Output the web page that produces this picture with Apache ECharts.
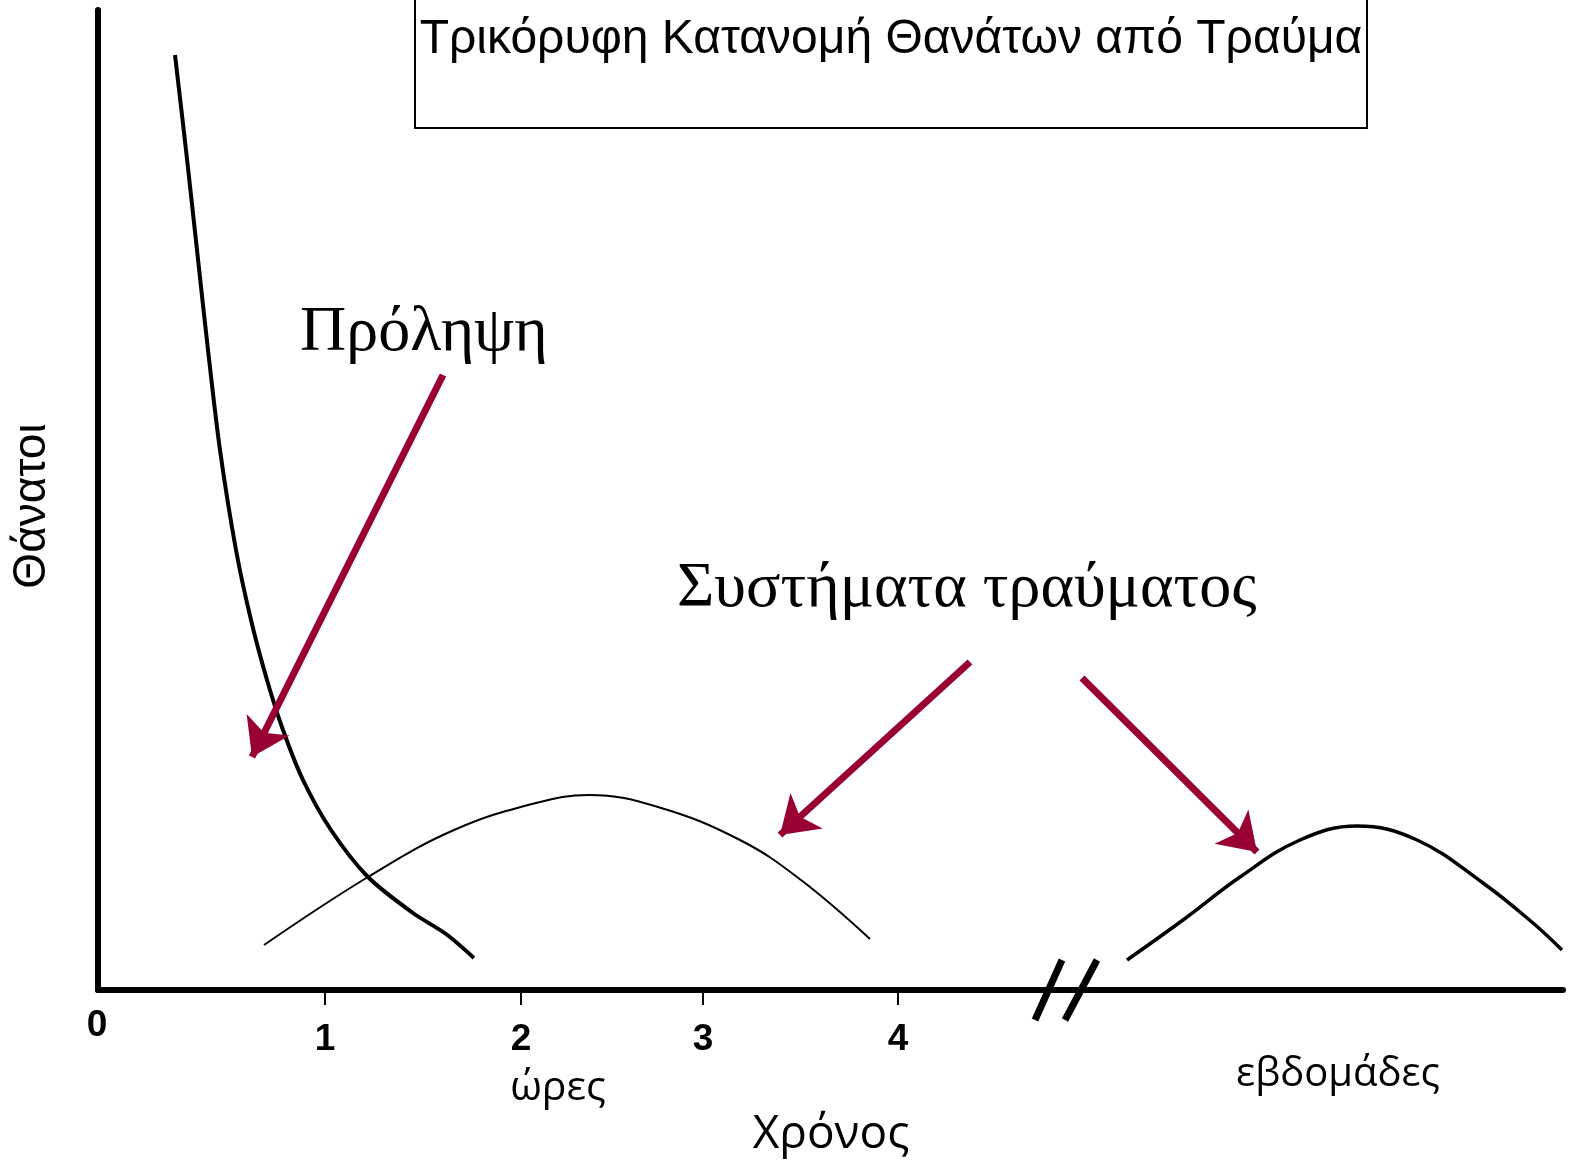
<!DOCTYPE html>
<html>
<head>
<meta charset="utf-8">
<script src="https://cdn.jsdelivr.net/npm/echarts@6/dist/echarts.min.js"></script>
<style>
html,body{margin:0;padding:0;background:#fff;}
#chart{width:1569px;height:1164px;}
</style>
</head>
<body>
<div id="chart"></div>
<script>
// Schematic units: x = horizontal distance along the time axis, y = deaths (arbitrary)
const xMax = 1465;
const yMax = 980;

// Tick positions along the time axis and their labels (hours)
const tickValues = [227, 423, 605, 800];
const tickLabels = ['1', '2', '3', '4'];
const zeroLabel = '0';
const breakAt = 967;

// Peak 1: immediate deaths (falling curve)
const immediateDeaths = [
  [77, 935], [88, 840], [99, 740], [110, 640], [122, 540], [138, 440],
  [153, 370], [169, 310], [185, 260], [205, 210], [233, 160],
  [270, 113], [315, 77], [348, 56], [376, 32]
];
// Peak 2: early deaths (hours)
const earlyDeaths = [
  [166, 45], [270, 113], [356, 160], [438, 187], [491, 195],
  [560, 183], [642, 150], [703, 110], [772, 51]
];
// Peak 3: late deaths (weeks)
const lateDeaths = [
  [1029, 30], [1085, 70], [1142, 113], [1202, 150], [1259, 164],
  [1319, 150], [1385, 107], [1435, 67], [1464, 40]
];
// Arrows [from, to]
const preventionArrow = [[[345, 615], [154, 233]]];
const traumaArrows = [
  [[872, 328], [682, 155]],
  [[984, 312], [1159, 138]]
];

const titleText = 'Τρικόρυφη Κατανομή Θανάτων από Τραύμα';
const yTitle = 'Θάνατοι';
const xTitle = 'Χρόνος';
const hoursLabel = 'ώρες';
const weeksLabel = 'εβδομάδες';
const preventionText = 'Πρόληψη';
const traumaText = 'Συστήματα τραύματος';

const chart = echarts.init(document.getElementById('chart'), null, {renderer: 'canvas'});

const arrowColor = '#990033';
const arrowData = preventionArrow.concat(traumaArrows).map(c => ({coords: c}));

chart.setOption({
  animation: false,
  backgroundColor: '#fff',
  grid: {left: 98, right: 6, top: 10, bottom: 174, containLabel: false},
  xAxis: {
    type: 'value', min: 0, max: xMax,
    axisLine: {show: true, onZero: false, lineStyle: {color: '#000', width: 6}},
    axisTick: {show: true, customValues: tickValues, length: 15, lineStyle: {color: '#000', width: 2}},
    axisLabel: {
      show: true, customValues: tickValues, margin: 31,
      fontFamily: 'Liberation Sans', fontWeight: 'bold', fontSize: 37, color: '#000',
      formatter: v => tickLabels[tickValues.indexOf(v)] || ''
    },
    splitLine: {show: false}
  },
  yAxis: {
    type: 'value', min: 0, max: yMax,
    axisLine: {show: true, onZero: false, lineStyle: {color: '#000', width: 6}},
    axisTick: {show: false}, axisLabel: {show: false}, splitLine: {show: false}
  },
  series: [
    {type: 'line', data: immediateDeaths, smooth: 0.3, showSymbol: false, symbol: 'none',
     lineStyle: {color: '#000', width: 4}, z: 3},
    {type: 'line', data: earlyDeaths, smooth: 0.4, showSymbol: false, symbol: 'none',
     lineStyle: {color: '#000', width: 2}, z: 3},
    {type: 'line', data: lateDeaths, smooth: 0.4, showSymbol: false, symbol: 'none',
     lineStyle: {color: '#000', width: 3.5}, z: 3},
    {type: 'lines', coordinateSystem: 'cartesian2d', data: arrowData,
     symbol: ['none', 'arrow'], symbolSize: [32, 36],
     lineStyle: {color: arrowColor, width: 7, opacity: 1, curveness: 0},
     itemStyle: {color: arrowColor}, z: 4, silent: true}
  ]
});

// Decorations positioned relative to axis
const origin = chart.convertToPixel({gridIndex: 0}, [0, 0]);
const brk = chart.convertToPixel({gridIndex: 0}, [breakAt, 0]);

chart.setOption({
  graphic: [
    {type: 'rect', shape: {x: 415, y: -5, width: 952, height: 133},
     style: {fill: 'none', stroke: '#000', lineWidth: 2}, z: 10},
    {type: 'text', x: 891, y: 40, style: {text: titleText, font: '48px "Liberation Sans"', fill: '#000',
     textAlign: 'center', textVerticalAlign: 'middle'}, z: 10},
    {type: 'text', x: origin[0] - 1, y: origin[1] + 36, style: {text: zeroLabel, font: 'bold 37px "Liberation Sans"', fill: '#000',
     textAlign: 'center', textVerticalAlign: 'middle'}, z: 10},
    {type: 'line', shape: {x1: brk[0] - 30, y1: brk[1] + 30, x2: brk[0] - 3, y2: brk[1] - 30},
     style: {stroke: '#000', lineWidth: 7}, z: 10},
    {type: 'line', shape: {x1: brk[0], y1: brk[1] + 30, x2: brk[0] + 32, y2: brk[1] - 30},
     style: {stroke: '#000', lineWidth: 7}, z: 10},
    {type: 'text', x: 32, y: 506, rotation: Math.PI / 2,
     style: {text: yTitle, font: '46px "Liberation Sans"', fill: '#000', textAlign: 'center', textVerticalAlign: 'middle'}, z: 10},
    {type: 'text', x: 558, y: 1088, style: {text: hoursLabel, font: '41px "Open Sans"', fill: '#000',
     textAlign: 'center', textVerticalAlign: 'middle'}, z: 10},
    {type: 'text', x: 1338, y: 1075, style: {text: weeksLabel, font: '40px "Open Sans"', fill: '#000',
     textAlign: 'center', textVerticalAlign: 'middle'}, z: 10},
    {type: 'text', x: 831, y: 1135, style: {text: xTitle, font: '46px "Open Sans"', fill: '#000',
     textAlign: 'center', textVerticalAlign: 'middle'}, z: 10},
    {type: 'text', x: 300, y: 365, style: {text: preventionText, font: '64px "Liberation Serif"', fill: '#000',
     textAlign: 'left', textVerticalAlign: 'bottom'}, z: 10},
    {type: 'text', x: 677, y: 621, style: {text: traumaText, font: '64px "Liberation Serif"', fill: '#000',
     textAlign: 'left', textVerticalAlign: 'bottom'}, z: 10}
  ]
});
</script>
</body>
</html>
